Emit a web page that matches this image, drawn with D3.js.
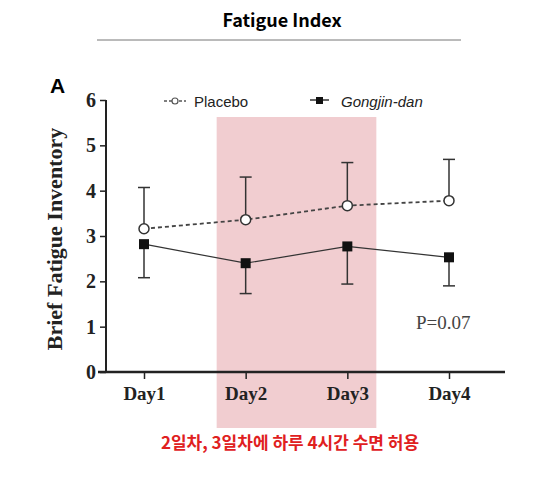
<!DOCTYPE html>
<html>
<head>
<meta charset="utf-8">
<script src="https://cdn.jsdelivr.net/npm/d3@7"></script>
<style>
  body { margin: 0; background: #fff; }
  svg { display: block; }
</style>
</head>
<body>
<svg id="chart" width="542" height="490"></svg>
<script>
const days = ["Day1", "Day2", "Day3", "Day4"];
const placebo = [3.16, 3.36, 3.67, 3.78];
const placeboUpper = [4.07, 4.30, 4.62, 4.69];
const gongjin = [2.82, 2.40, 2.77, 2.53];
const gongjinLower = [2.08, 1.73, 1.94, 1.90];
const yTicks = [0, 1, 2, 3, 4, 5, 6];
const shadedDays = ["Day2", "Day3"];

const svg = d3.select("#chart");

const x = d3.scalePoint().domain(days).range([144, 449]);
const y = d3.scaleLinear().domain([0, 6]).range([372, 100]);

// title
svg.append("text")
  .attr("x", 282).attr("y", 27)
  .attr("text-anchor", "middle")
  .style("font-family", "'Noto Sans CJK KR', 'Noto Sans', sans-serif")
  .style("font-weight", "bold")
  .style("font-size", "18px")
  .text("Fatigue Index");

svg.append("line")
  .attr("x1", 97).attr("x2", 461)
  .attr("y1", 40).attr("y2", 40)
  .attr("stroke", "#777")
  .attr("stroke-width", 1);

// shaded sleep restriction band
svg.append("rect")
  .attr("x", x(shadedDays[0]) - 29)
  .attr("y", 117)
  .attr("width", x(shadedDays[1]) - x(shadedDays[0]) + 58)
  .attr("height", 311)
  .attr("fill", "#f1cdd0");

// panel letter
svg.append("text")
  .attr("x", 50).attr("y", 93)
  .style("font-family", "Arial, 'Liberation Sans', sans-serif")
  .style("font-weight", "bold")
  .style("font-size", "21px")
  .text("A");

// y axis
const yAxis = svg.append("g")
  .attr("transform", "translate(106,0)")
  .call(d3.axisLeft(y).tickValues(yTicks).tickSize(6).tickPadding(4).tickFormat(d3.format("d")));
yAxis.select(".domain").attr("stroke", "#222").attr("stroke-width", 2).attr("d", "M0,100V372");
yAxis.selectAll(".tick line").attr("stroke", "#222").attr("stroke-width", 1.5);
yAxis.selectAll(".tick text")
  .style("font-family", "'Liberation Serif', 'Times New Roman', serif")
  .style("font-weight", "bold")
  .style("font-size", "20px")
  .attr("fill", "#222");

// x axis
const xAxis = svg.append("g")
  .attr("transform", "translate(0,372)")
  .call(d3.axisBottom(x).tickSize(7).tickPadding(8));
xAxis.select(".domain").attr("stroke", "#222").attr("stroke-width", 2.5).attr("d", "M98,0H505");
xAxis.selectAll(".tick line").attr("stroke", "#222").attr("stroke-width", 1.5);
xAxis.selectAll(".tick text")
  .style("font-family", "'Liberation Serif', 'Times New Roman', serif")
  .style("font-weight", "bold")
  .style("font-size", "19px")
  .attr("fill", "#222");

// y label
svg.append("text")
  .attr("transform", "translate(62,239) rotate(-90)")
  .attr("text-anchor", "middle")
  .style("font-family", "'Liberation Serif', 'Times New Roman', serif")
  .style("font-weight", "bold")
  .style("font-size", "22px")
  .attr("fill", "#222")
  .text("Brief Fatigue Inventory");

const line = d3.line().x((d, i) => x(days[i])).y(d => y(d));

// error bars
function errorBars(means, ends) {
  means.forEach((m, i) => {
    const cx = x(days[i]);
    svg.append("line")
      .attr("x1", cx).attr("x2", cx)
      .attr("y1", y(m)).attr("y2", y(ends[i]))
      .attr("stroke", "#333").attr("stroke-width", 1.5);
    svg.append("line")
      .attr("x1", cx - 6).attr("x2", cx + 6)
      .attr("y1", y(ends[i])).attr("y2", y(ends[i]))
      .attr("stroke", "#333").attr("stroke-width", 1.5);
  });
}
errorBars(placebo, placeboUpper);
errorBars(gongjin, gongjinLower);

// lines
svg.append("path")
  .datum(placebo)
  .attr("d", line)
  .attr("fill", "none")
  .attr("stroke", "#444")
  .attr("stroke-width", 1.8)
  .attr("stroke-dasharray", "4,3");

svg.append("path")
  .datum(gongjin)
  .attr("d", line)
  .attr("fill", "none")
  .attr("stroke", "#333")
  .attr("stroke-width", 1.2);

// markers
svg.selectAll(".pl").data(placebo).enter().append("circle")
  .attr("cx", (d, i) => x(days[i]))
  .attr("cy", d => y(d))
  .attr("r", 5)
  .attr("fill", "#fff")
  .attr("stroke", "#333")
  .attr("stroke-width", 1.5);

svg.selectAll(".gj").data(gongjin).enter().append("rect")
  .attr("x", (d, i) => x(days[i]) - 5)
  .attr("y", d => y(d) - 5)
  .attr("width", 10).attr("height", 10)
  .attr("fill", "#111");

// legend
const leg = svg.append("g");
leg.append("line").attr("x1", 164).attr("x2", 186).attr("y1", 101).attr("y2", 101)
  .attr("stroke", "#555").attr("stroke-width", 1.5).attr("stroke-dasharray", "3,2");
leg.append("circle").attr("cx", 175).attr("cy", 101).attr("r", 3)
  .attr("fill", "#fff").attr("stroke", "#555").attr("stroke-width", 1.2);
leg.append("text").attr("x", 194).attr("y", 107)
  .style("font-family", "Arial, 'Liberation Sans', sans-serif")
  .style("font-size", "15px").attr("fill", "#222")
  .text("Placebo");

leg.append("line").attr("x1", 310).attr("x2", 329).attr("y1", 100).attr("y2", 100)
  .attr("stroke", "#333").attr("stroke-width", 1.5);
leg.append("rect").attr("x", 316).attr("y", 97).attr("width", 7).attr("height", 7).attr("fill", "#111");
leg.append("text").attr("x", 341).attr("y", 107)
  .style("font-family", "Arial, 'Liberation Sans', sans-serif")
  .style("font-size", "15px").style("font-style", "italic").attr("fill", "#222")
  .text("Gongjin-dan");

// p value
svg.append("text")
  .attr("x", 416).attr("y", 329)
  .style("font-family", "'Liberation Serif', 'Times New Roman', serif")
  .style("font-size", "19px").attr("fill", "#444")
  .text("P=0.07");

// caption
svg.append("text")
  .attr("x", 290).attr("y", 449)
  .attr("text-anchor", "middle")
  .style("font-family", "'Noto Sans CJK KR', sans-serif")
  .style("font-weight", "bold")
  .style("font-size", "17px")
  .attr("fill", "#e0201e")
  .text("2일차, 3일차에 하루 4시간 수면 허용");
</script>
</body>
</html>
